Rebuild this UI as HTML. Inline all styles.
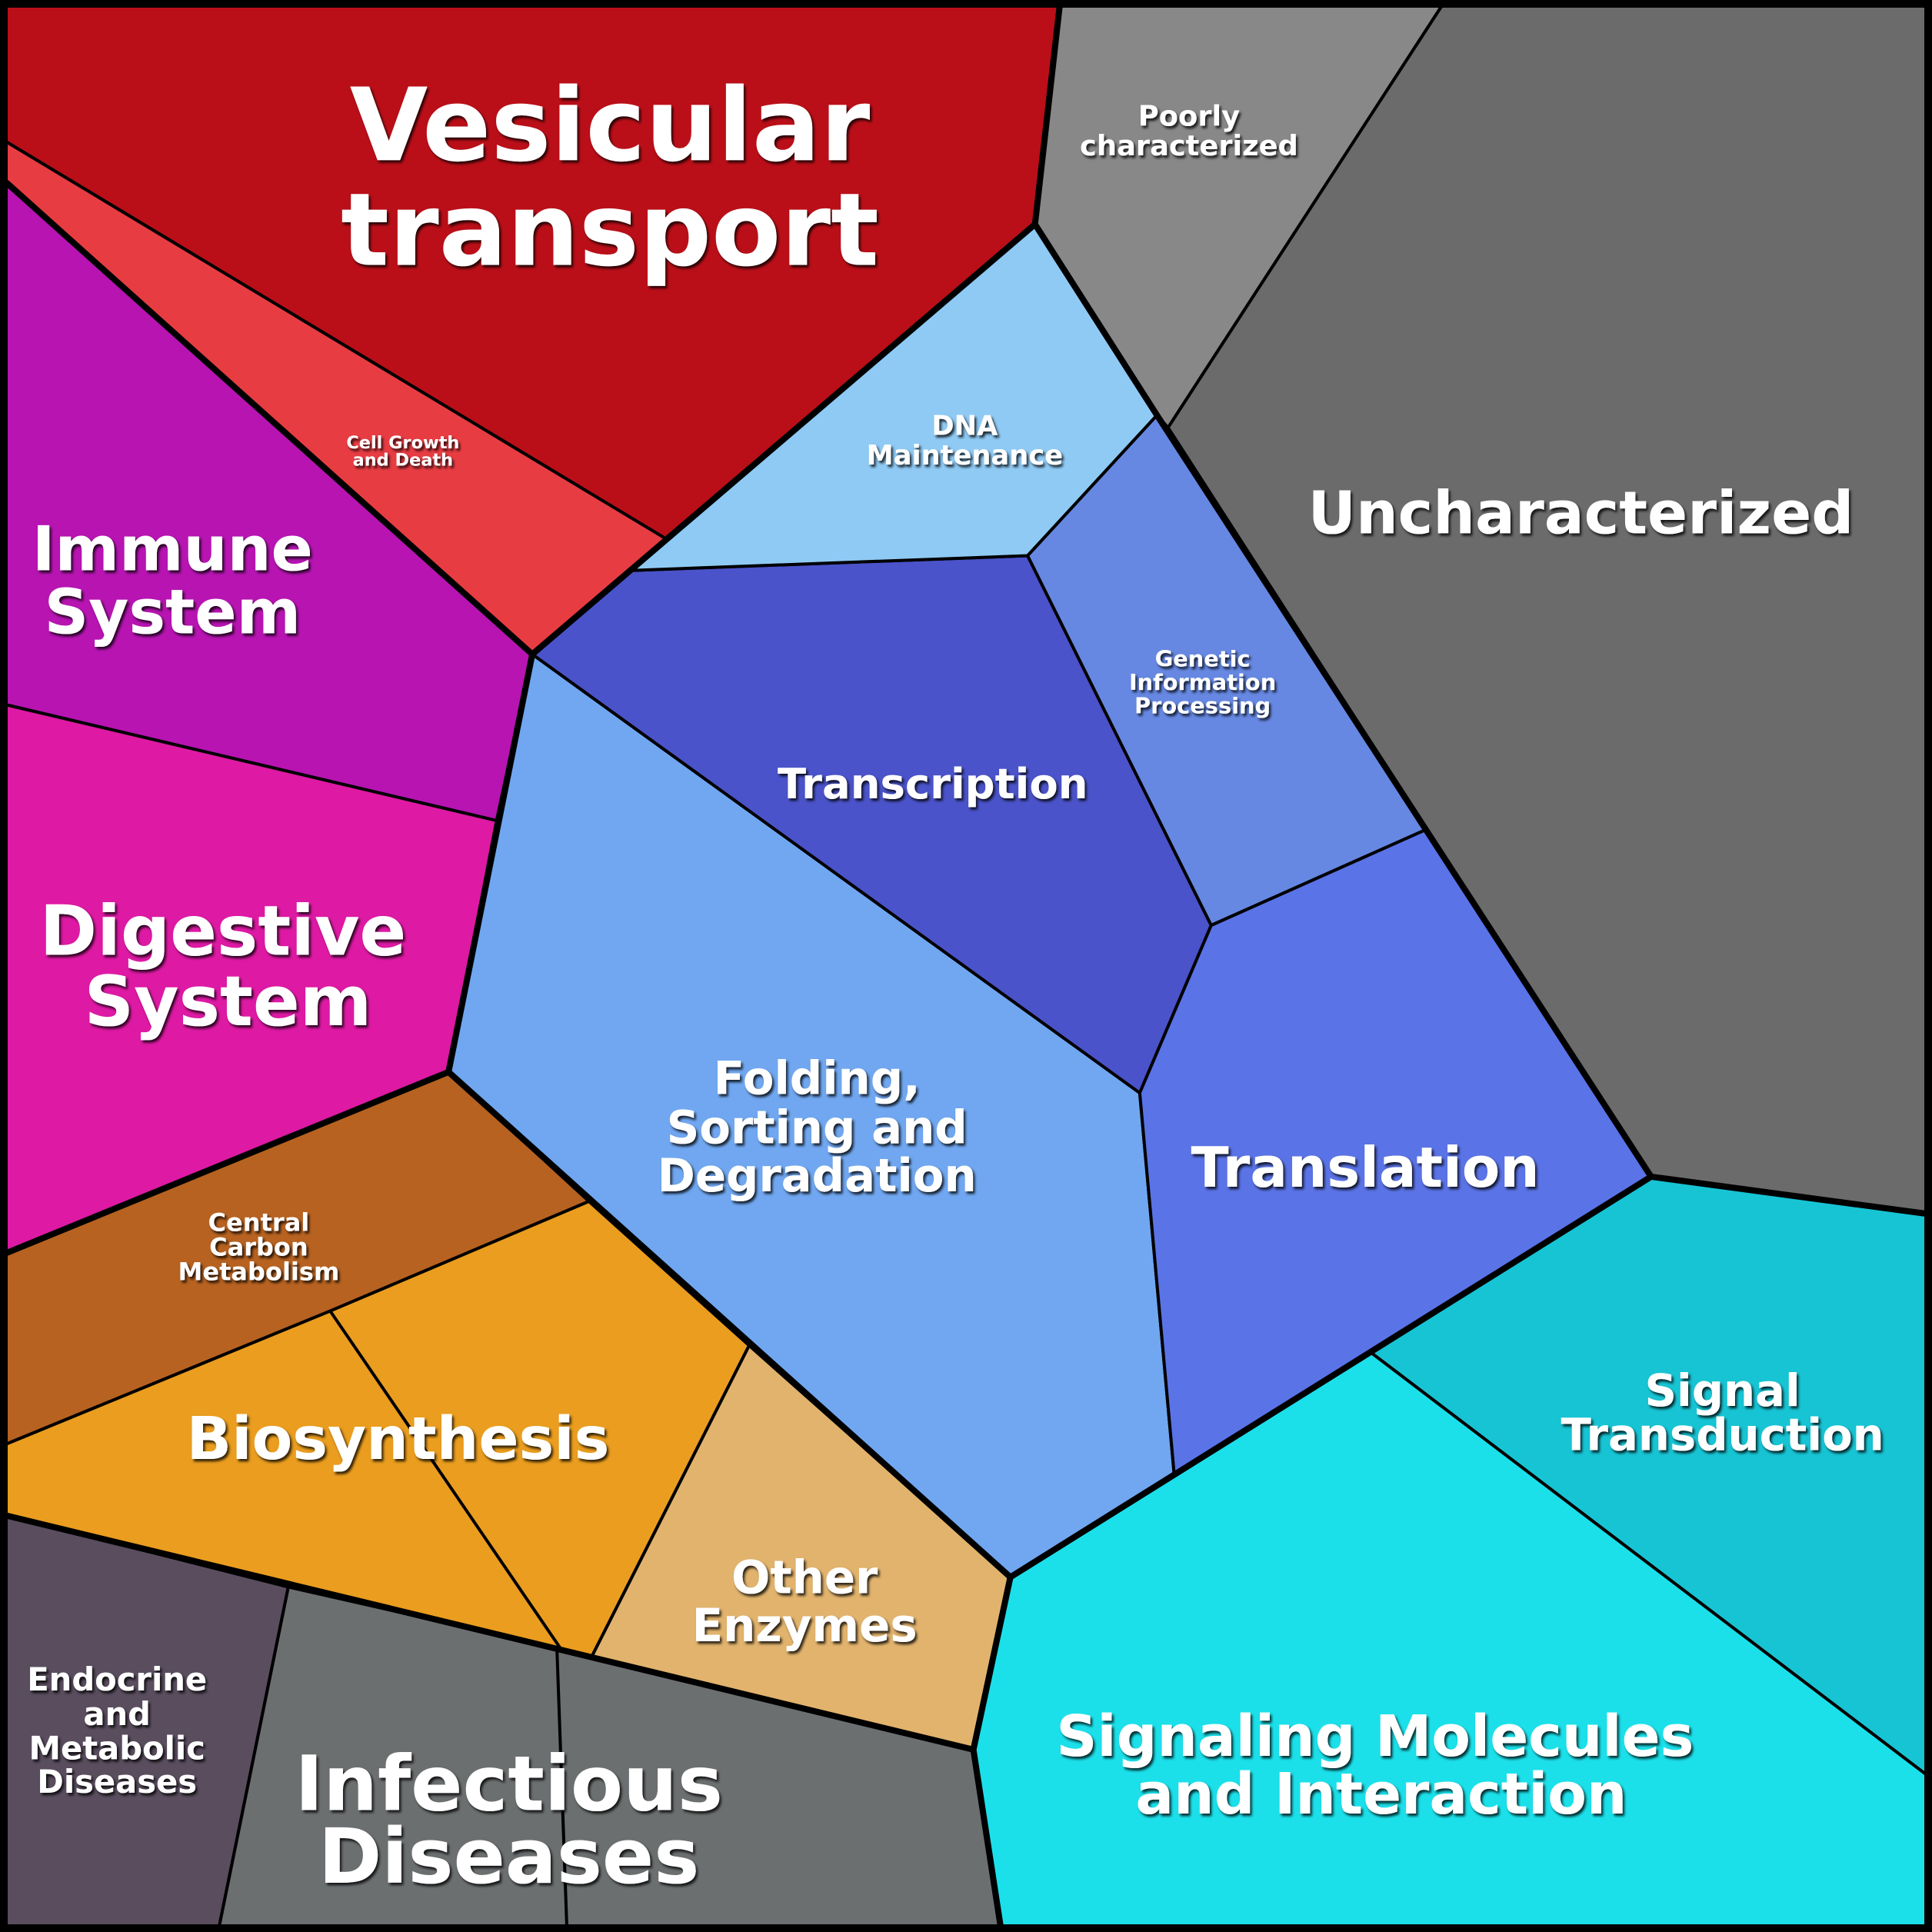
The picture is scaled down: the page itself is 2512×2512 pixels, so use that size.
<!DOCTYPE html>
<html><head><meta charset="utf-8"><style>
html,body{margin:0;padding:0;background:#000;}
svg{display:block;}
text{font-family:"DejaVu Sans","Liberation Sans",sans-serif;font-weight:bold;fill:#fff;text-anchor:middle;}
</style></head><body>
<svg width="2512" height="2512" viewBox="0 0 1568 1568" xmlns="http://www.w3.org/2000/svg">
<defs><filter id="sh" x="-10%" y="-10%" width="120%" height="130%"><feDropShadow dx="1.5" dy="2" stdDeviation="1" flood-color="#000" flood-opacity="0.8"/></filter></defs>
<rect x="0" y="0" width="1568" height="1568" fill="#000"/>
<g stroke="#000" stroke-width="2.5" stroke-linejoin="round">
<polygon fill="#BA0F18" points="5,5 860,5 840,182 540,437 5,115"/>
<polygon fill="#E83C43" points="5,115 540,437 512,463 432,531 5,148"/>
<polygon fill="#B714B2" points="5,148 432,531 403,666 5,572"/>
<polygon fill="#DE19A4" points="5,572 403,666 364,870 5,1017"/>
<polygon fill="#B76220" points="5,1017 364,870 478,975 268,1064 5,1172"/>
<polygon fill="#EA9D1E" points="5,1172 268,1064 478,975 608,1092 480,1345 455,1338 5,1230"/>
<polygon fill="#E1B36D" points="608,1092 820,1280 790,1420 480,1345"/>
<polygon fill="#594D5E" points="5,1230 234,1288 178,1563 5,1563"/>
<polygon fill="#6C6F70" points="234,1288 455,1338 480,1345 790,1420 812,1563 178,1563"/>
<polygon fill="#70A7F0" points="432,531 925,887 953,1197 820,1280 608,1092 478,975 364,870"/>
<polygon fill="#4A53C9" points="512,463 834,451 983,751 925,887 432,531"/>
<polygon fill="#8FCAF4" points="840,182 939,337 834,451 512,463 540,437"/>
<polygon fill="#6688E2" points="939,337 1158,673 983,751 834,451"/>
<polygon fill="#5A73E6" points="983,751 1158,673 1340,955 1113,1098 953,1197 925,887"/>
<polygon fill="#878887" points="840,182 860,5 1170,5 948,347 939,337"/>
<polygon fill="#6A6B6A" points="1170,5 1563,5 1563,985 1340,955 1158,673 948,347"/>
<polygon fill="#17C4D4" points="1340,955 1563,985 1563,1440 1113,1098"/>
<polygon fill="#1BE0EA" points="820,1280 953,1197 1113,1098 1563,1440 1563,1563 812,1563 790,1420"/>
<line x1="268" y1="1064" x2="455" y2="1338"/>
<line x1="452" y1="1338" x2="460" y2="1563"/>
</g>
<g stroke="#000" stroke-width="5" fill="none" stroke-linejoin="round">
<polyline points="5,148 432,531 840,182 860,5"/>
<polyline points="432,531 364,870 5,1017"/>
<polyline points="364,870 820,1280 790,1420 480,1345 5,1230"/>
<polyline points="840,182 939,337 1340,955 820,1280"/>
<polyline points="1340,955 1563,985"/>
<polyline points="790,1420 812,1563"/>
<rect x="2.5" y="2.5" width="1563" height="1563"/>
</g>
<g filter="url(#sh)">
<text x="495" y="130" font-size="82">Vesicular</text>
<text x="495" y="215" font-size="82">transport</text>
<text x="965" y="102" font-size="23">Poorly</text>
<text x="965" y="126" font-size="23">characterized</text>
<text x="1283" y="433" font-size="48">Uncharacterized</text>
<text x="327" y="364" font-size="14">Cell Growth</text>
<text x="327" y="378" font-size="14">and Death</text>
<text x="783" y="353" font-size="22">DNA</text>
<text x="783" y="377" font-size="22">Maintenance</text>
<text x="140" y="463" font-size="50">Immune</text>
<text x="140" y="514" font-size="50">System</text>
<text x="976" y="541" font-size="18">Genetic</text>
<text x="976" y="560" font-size="18">Information</text>
<text x="976" y="579" font-size="18">Processing</text>
<text x="757" y="648" font-size="34">Transcription</text>
<text x="181" y="775" font-size="56">Digestive</text>
<text x="185" y="832" font-size="56">System</text>
<text x="663" y="888" font-size="37">Folding,</text>
<text x="663" y="928" font-size="37">Sorting and</text>
<text x="663" y="967" font-size="37">Degradation</text>
<text x="1108" y="963" font-size="45">Translation</text>
<text x="210" y="999" font-size="20">Central</text>
<text x="210" y="1019" font-size="20">Carbon</text>
<text x="210" y="1039" font-size="20">Metabolism</text>
<text x="1398" y="1141" font-size="36">Signal</text>
<text x="1398" y="1177" font-size="36">Transduction</text>
<text x="323" y="1184" font-size="48">Biosynthesis</text>
<text x="653" y="1293" font-size="37">Other</text>
<text x="653" y="1332" font-size="37">Enzymes</text>
<text x="95" y="1372" font-size="26">Endocrine</text>
<text x="95" y="1400" font-size="26">and</text>
<text x="95" y="1428" font-size="26">Metabolic</text>
<text x="95" y="1455" font-size="26">Diseases</text>
<text x="1116" y="1425" font-size="46">Signaling Molecules</text>
<text x="1121" y="1472" font-size="46">and Interaction</text>
<text x="413" y="1469" font-size="62">Infectious</text>
<text x="413" y="1528" font-size="62">Diseases</text>
</g>
</svg>
</body></html>
